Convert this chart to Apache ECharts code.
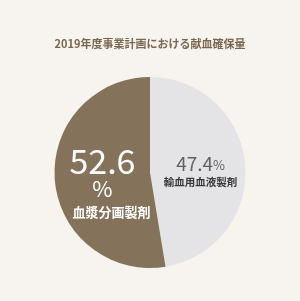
<!DOCTYPE html>
<html><head><meta charset="utf-8">
<script src="https://cdn.jsdelivr.net/npm/echarts@6/dist/echarts.min.js"></script>
<style>html,body{margin:0;padding:0;background:#f7f3ee;}#c{width:300px;height:301px;}</style>
</head><body><div id="c"></div>
<script>
const title = '2019年度事業計画における献血確保量';
const categories = ['輸血用血液製剤', '血漿分画製剤'];
const values = [47.4, 52.6];
const colors = ['#e4e4e7', '#85725a'];

const chart = echarts.init(document.getElementById('c'), null, {renderer: 'canvas'});
const font = '"Noto Sans CJK JP", "Noto Sans", sans-serif';
chart.setOption({
  backgroundColor: '#f7f3ee',
  animation: false,
  title: {
    text: title, left: 'center', top: 33,
    textStyle: {fontFamily: font, fontSize: 11, fontWeight: 'bold', color: '#7a6650'}
  },
  series: [{
    type: 'pie',
    center: [150, 172.5],
    radius: [0, 95.5],
    startAngle: 90,
    clockwise: true,
    silent: true,
    labelLine: {show: false},
    data: categories.map((c, i) => ({
      name: c, value: values[i],
      itemStyle: {color: colors[i]},
      label: i === 0 ? {
        show: true, position: 'inside', offset: [0, 4],
        formatter: '{a|' + values[i].toFixed(1) + '}{p|%}\n{b|' + c + '}',
        rich: {
          a: {fontFamily: font, fontSize: 19, color: '#606060', lineHeight: 20},
          p: {fontFamily: font, fontSize: 13, color: '#606060', lineHeight: 20, padding: [3, 0, 0, 0]},
          b: {fontFamily: font, fontSize: 10.5, fontWeight: 'bold', color: '#3a3a3a', lineHeight: 18}
        }
      } : {
        show: true, position: 'inside', offset: [3, 7],
        formatter: '{a|' + values[i].toFixed(1) + '}\n{p|%}\n{b|' + c + '}',
        rich: {
          a: {fontFamily: font, fontSize: 34, color: '#ffffff', lineHeight: 32, align: 'center'},
          p: {fontFamily: font, fontSize: 22, color: '#ffffff', lineHeight: 24, align: 'center'},
          b: {fontFamily: font, fontSize: 13, fontWeight: 'bold', color: '#ffffff', lineHeight: 22, align: 'center', padding: [0, 0, 0, 18]}
        }
      }
    }))
  }]
});
</script></body></html>
